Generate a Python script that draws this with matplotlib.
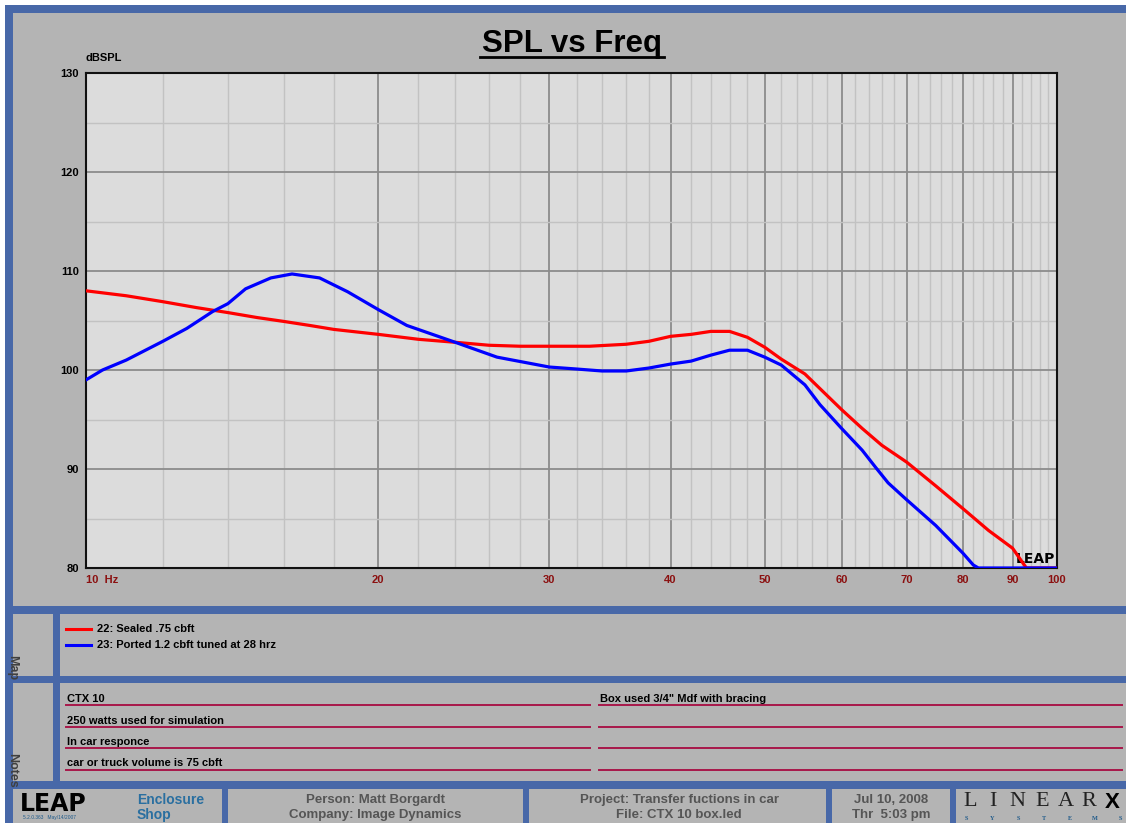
import matplotlib
matplotlib.use("Agg")
import matplotlib.pyplot as plt
from matplotlib.patches import Rectangle

plt.rcParams["font.family"] = ["Liberation Sans", "DejaVu Sans"]

# data
freq_sealed = [10, 11, 12, 13, 14, 15, 16, 17, 18, 20, 22, 24, 26, 28, 30, 33, 36, 38,
               40, 42, 44, 46, 48, 50, 52, 55, 58, 60, 63, 66, 70, 75, 80, 85, 90, 93, 100]
spl_sealed = [108.0, 107.5, 106.9, 106.3, 105.8, 105.3, 104.9, 104.5, 104.1, 103.6, 103.1,
              102.8, 102.5, 102.4, 102.4, 102.4, 102.6, 102.9, 103.4, 103.6, 103.9, 103.9,
              103.3, 102.3, 101.1, 99.6, 97.4, 96.0, 94.1, 92.4, 90.7, 88.3, 86.0, 83.8,
              82.0, 80.0, 80.0]

freq_ported = [10, 10.4, 11, 12, 12.7, 13.5, 14, 14.6, 15.5, 16.3, 17.4, 18.6, 20, 21.4, 24,
               26.5, 30, 32, 34, 36, 38, 40, 42, 44, 46, 48, 50, 52, 55, 57, 60, 63, 65, 67,
               70, 75, 80, 82, 83, 100]
spl_ported = [99.0, 100.0, 101.0, 102.9, 104.2, 105.9, 106.7, 108.2, 109.3, 109.7, 109.3,
              107.9, 106.1, 104.5, 102.8, 101.3, 100.3, 100.1, 99.9, 99.9, 100.2, 100.6,
              100.9, 101.5, 102.0, 102.0, 101.3, 100.5, 98.5, 96.5, 94.1, 91.9, 90.2, 88.6,
              86.9, 84.3, 81.5, 80.3, 80.0, 80.0]

series_labels = ["22: Sealed .75 cbft", "23: Ported 1.2 cbft tuned at 28 hrz"]
x_major = [10, 20, 30, 40, 50, 60, 70, 80, 90, 100]
x_labels = ["10  Hz", "20", "30", "40", "50", "60", "70", "80", "90", "100"]
x_minor = [f for f in range(12, 100, 2) if f % 10 != 0]
y_major = [80, 90, 100, 110, 120, 130]

notes_left = ["CTX 10", "250 watts used for simulation", "In car responce",
              "car or truck volume is 75 cbft"]
notes_right = ["Box used 3/4\" Mdf with bracing", "", "", ""]

W, H = 1126, 823
BLUE = "#4868a8"
GRAY = "#b4b4b4"
FOOT = "#555555"

fig = plt.figure(figsize=(W / 100, H / 100), dpi=100, facecolor="white")

# page furniture drawn in pixel coordinates
bg = fig.add_axes([0, 0, 1, 1])
bg.set_xlim(0, W)
bg.set_ylim(H, 0)
bg.axis("off")


def box(x0, y0, x1, y1, color):
    bg.add_patch(Rectangle((x0, y0), x1 - x0, y1 - y0, facecolor=color, edgecolor="none",
                           zorder=1))


box(5, 5, W, H, BLUE)
box(13, 13, W, 606, GRAY)
box(13, 614, 53, 676, GRAY)
box(60, 614, W, 676, GRAY)
box(13, 683, 53, 781, GRAY)
box(60, 683, W, 781, GRAY)
for x0, x1 in [(13, 222), (228, 523), (529, 826), (832, 950), (956, W)]:
    box(x0, 789, x1, H, GRAY)

# title
bg.text(572, 44, "SPL vs Freq", ha="center", va="center", fontsize=22.5, fontweight="bold")
bg.plot([480, 664], [57, 57], color="black", lw=2)
bg.text(86, 63, "dBSPL", ha="left", va="bottom", fontsize=8, fontweight="bold")

# legend in the Map panel
bg.text(12, 668, "Map", rotation=-90, ha="center", va="center", fontsize=9,
        fontweight="bold", color="#404040", zorder=5)
for i, (lab, col) in enumerate(zip(series_labels, ["#ff0000", "#0000ff"])):
    yy = 629 + i * 15.5
    bg.plot([66, 91], [yy, yy], color=col, lw=2.2)
    bg.text(97, yy, lab, ha="left", va="center", fontsize=8, fontweight="bold")

# notes panel
bg.text(12, 770, "Notes", rotation=-90, ha="center", va="center", fontsize=9,
        fontweight="bold", color="#404040", zorder=5)
for i in range(4):
    yy = 705 + i * 21.5
    bg.plot([66, 590], [yy, yy], color="#a8174a", lw=1.4)
    bg.plot([599, 1122], [yy, yy], color="#a8174a", lw=1.4)
    bg.text(67, yy - 1, notes_left[i], ha="left", va="bottom", fontsize=8, fontweight="bold")
    if notes_right[i]:
        bg.text(600, yy - 1, notes_right[i], ha="left", va="bottom", fontsize=8,
                fontweight="bold")

# footer
bg.text(20, 804, "LEAP", ha="left", va="center", fontsize=17, fontweight="heavy",
        family="DejaVu Sans", color="black")
bg.text(23, 818, "5.2.0.363   May/14/2007", ha="left", va="center", fontsize=3.5,
        color="#1f5a8a")
bg.text(137, 800, "Enclosure", ha="left", va="center", fontsize=10, fontweight="bold",
        color="#2a6fa0")
bg.text(137, 815, "Shop", ha="left", va="center", fontsize=10, fontweight="bold",
        color="#2a6fa0")
bg.text(375, 800, "Person: Matt Borgardt", ha="center", va="center", fontsize=9.5,
        fontweight="bold", color=FOOT)
bg.text(375, 815, "Company: Image Dynamics", ha="center", va="center", fontsize=9.5,
        fontweight="bold", color=FOOT)
bg.text(679, 800, "Project: Transfer fuctions in car", ha="center", va="center",
        fontsize=9.5, fontweight="bold", color=FOOT)
bg.text(679, 815, "File: CTX 10 box.led", ha="center", va="center", fontsize=9.5,
        fontweight="bold", color=FOOT)
bg.text(891, 800, "Jul 10, 2008", ha="center", va="center", fontsize=9.5,
        fontweight="bold", color=FOOT)
bg.text(891, 815, "Thr  5:03 pm", ha="center", va="center", fontsize=9.5,
        fontweight="bold", color=FOOT)
for ch, xx in zip("LINEAR", [970, 993, 1017, 1042, 1066, 1089]):
    bg.text(xx, 802, ch, ha="center", va="center", fontsize=16,
            family="Liberation Serif", color="#222222")
bg.text(1112, 802, "X", ha="center", va="center", fontsize=16, fontweight="bold",
        color="black")
for ch, xx in zip("SYSTEMS", [966, 992, 1018, 1044, 1070, 1095, 1120]):
    bg.text(xx, 818, ch, ha="center", va="center", fontsize=4.5, fontweight="bold",
            family="Liberation Serif", color="#1f5a8a")

# main plot
ax = fig.add_axes([86 / W, 1 - 568 / H, (1057 - 86) / W, (568 - 73) / H])
ax.set_facecolor("#dcdcdc")
ax.set_xscale("log")
ax.set_xlim(10, 100)
ax.set_ylim(80, 130)

ax.plot(freq_sealed, spl_sealed, color="#ff0000", lw=2.3, zorder=3)
ax.plot(freq_ported, spl_ported, color="#0000ff", lw=2.3, zorder=4)

ax.set_xticks(x_major)
ax.set_xticklabels(x_labels)
ax.set_xticks(x_minor, minor=True)
ax.set_xticklabels([], minor=True)
ax.set_yticks(y_major)
ax.set_yticks([85, 95, 105, 115, 125], minor=True)
ax.grid(which="major", color="#8c8c8c", lw=1.3, zorder=0)
ax.grid(which="minor", color="#c2c2c2", lw=1.0, zorder=0)
ax.set_axisbelow(True)
ax.tick_params(which="both", length=0)
ax.tick_params(axis="x", pad=5, labelsize=8, labelcolor="#8b1010")
ax.tick_params(axis="y", pad=5, labelsize=8)
for lab in ax.get_xticklabels() + ax.get_yticklabels():
    lab.set_fontweight("bold")
ax.get_xticklabels()[0].set_horizontalalignment("left")
for sp in ax.spines.values():
    sp.set_color("#111111")
    sp.set_linewidth(1.5)

ax.text(0.998, 0.005, "LEAP", transform=ax.transAxes, ha="right", va="bottom",
        fontsize=10, fontweight="heavy", family="DejaVu Sans", color="black", zorder=2)

fig.savefig("out.png", dpi=100, facecolor="white")
